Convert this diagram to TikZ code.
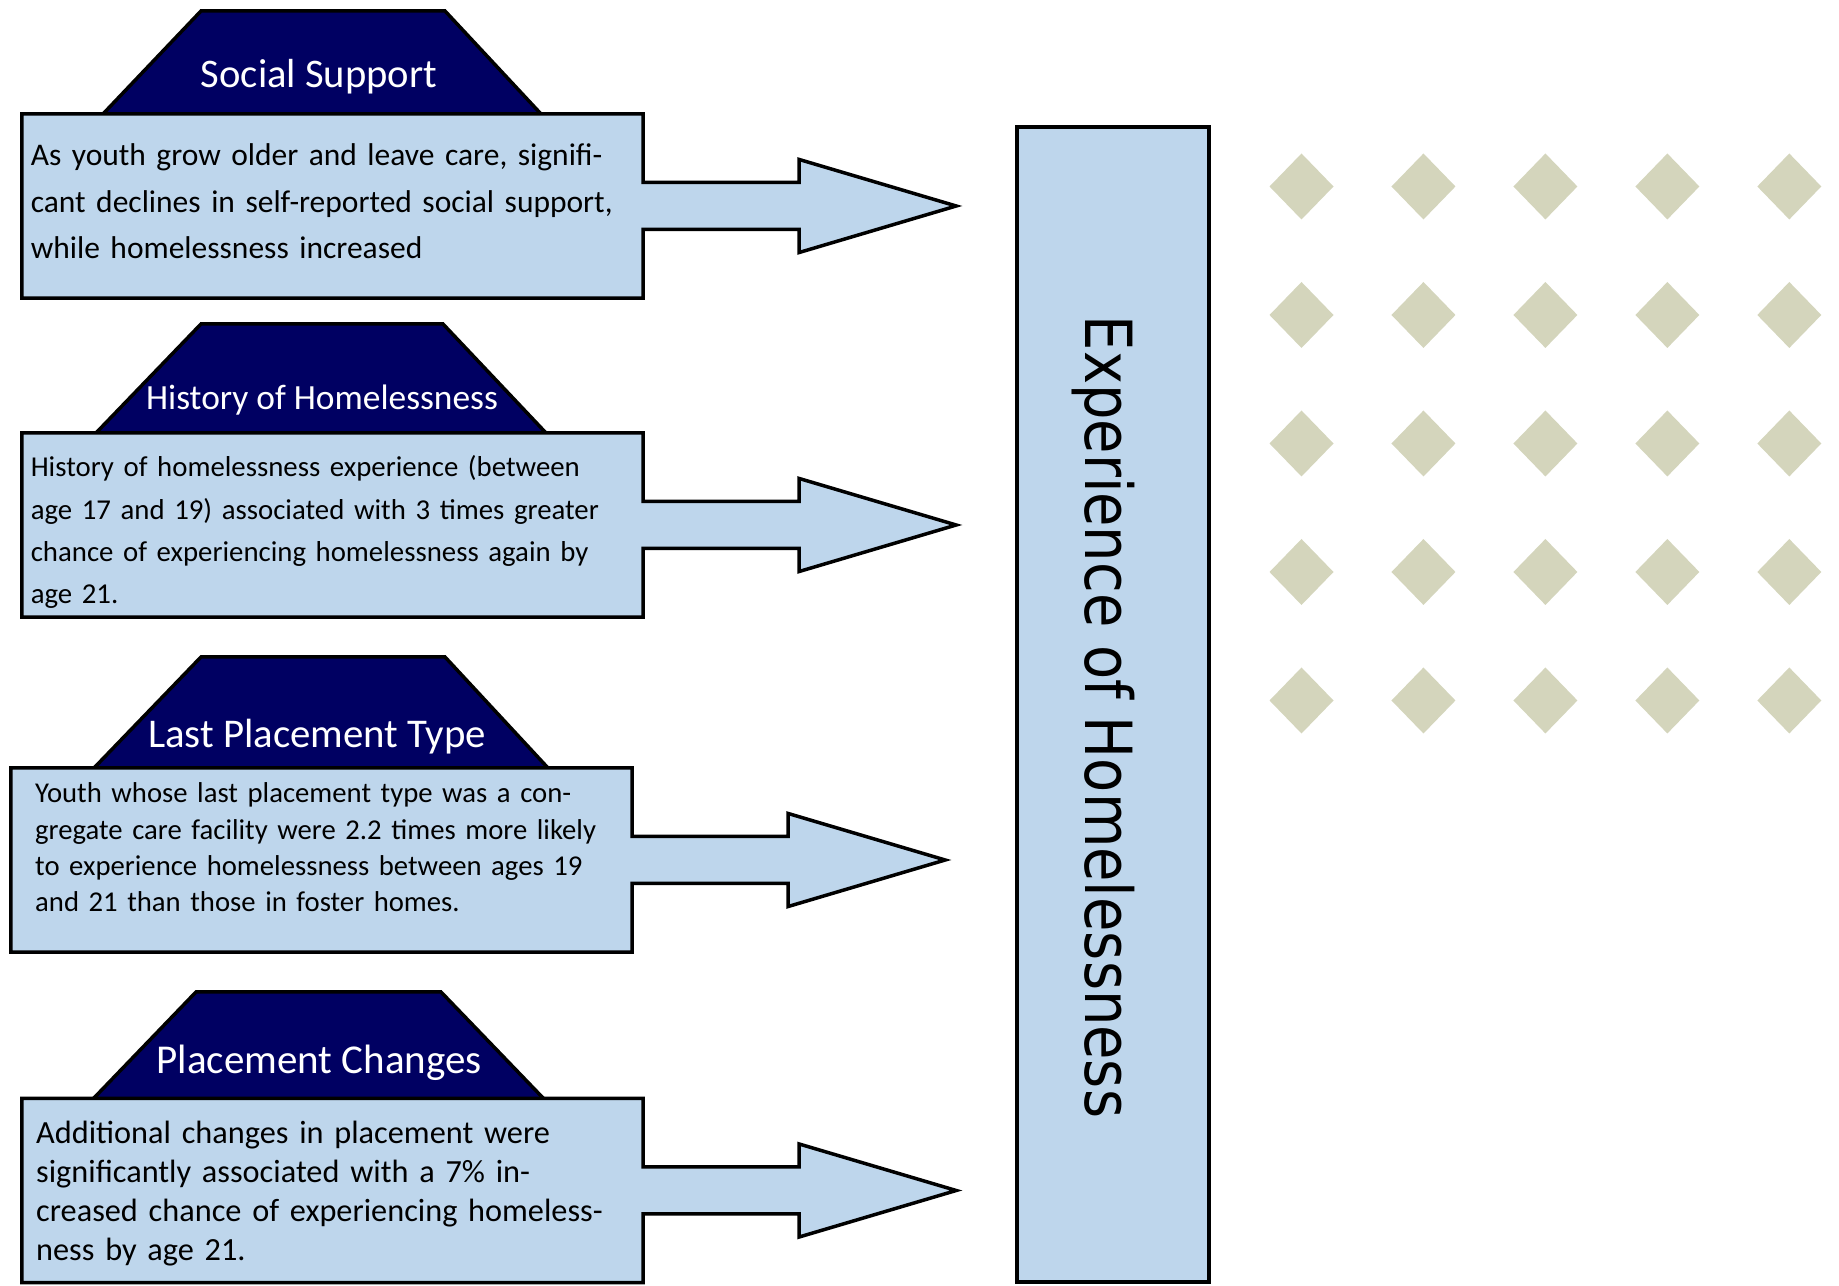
\documentclass[tikz,border=0pt]{standalone}
\usepackage{fontspec}
\setmainfont{Carlito}
\newfontfamily\vertfont{DejaVu Sans}
\usepackage{graphicx}
\usetikzlibrary{positioning, calc}
\definecolor{capnavy}{RGB}{0,0,98}
\definecolor{boxblue}{RGB}{190,214,236}
\definecolor{dotgray}{RGB}{212,213,188}
\tikzset{
  capshape/.style = {draw=black, line width=3.5pt, fill=capnavy},
  infobox/.style  = {draw=black, line width=3.5pt, fill=boxblue},
  boxframe/.style = {inner sep=0pt, minimum width=621pt, minimum height=184pt},
  captext/.style  = {text=white, anchor=base, inner sep=0pt},
  bodytext/.style = {anchor=base west, text width=650pt, align=left, inner sep=0pt},
  tallbox/.style  = {draw=black, line width=3.5pt, fill=boxblue, inner sep=0pt,
                     minimum width=192pt, minimum height=1155pt},
  vlabel/.style   = {rotate=-90, anchor=base, inner sep=0pt,
                     font=\vertfont\fontsize{65}{70}\selectfont},
}
% box outline merged with its arrow
\newcommand{\boxarrow}[1]{%
  \draw[infobox] (#1.north west) -- (#1.north east) -- ([yshift=23.5pt]#1.east)
    -- ++(156,0) -- ++(0,23) -- ([xshift=313pt]#1.east) -- ++(-157,-46.5)
    -- ++(0,23) -- ([yshift=-23.5pt]#1.east) -- (#1.south east)
    -- (#1.south west) -- cycle;}

\begin{document}
\begin{tikzpicture}[x=1pt, y=1pt]
  \useasboundingbox (0,0) rectangle (1839,1285);

  % Social Support
  \draw[capshape] (103,1171) -- (201,1274) -- (445,1274) -- (541,1171) -- cycle;
  \node[boxframe] (ssbox) at (332.5,1079) {};
  \boxarrow{ssbox}
  \node[captext, font=\fontsize{40.6}{48}\selectfont] (sstitle) at (319,1197) {Social Support};
  \node[bodytext, font=\fontsize{31.5}{46.5}\selectfont] (ssbody) at (30.6,1119)
    {As youth grow older and leave care, signifi-\\
     cant declines in self-reported social support,\\
     while homelessness increased};

  % History of Homelessness
  \draw[capshape] (96,852) -- (201,961) -- (443,961) -- (546,852) -- cycle;
  \node[boxframe] (hhbox) at (332.5,760) {};
  \boxarrow{hhbox}
  \node[captext, font=\fontsize{35.4}{42}\selectfont] (hhtitle) at (322,875.7) {History of Homelessness};
  \node[bodytext, font=\fontsize{28.8}{42.2}\selectfont] (hhbody) at (30.6,808)
    {History of homelessness experience (between\\
     age 17 and 19) associated with 3 times greater\\
     chance of experiencing homelessness again by\\
     age 21.};

  % Last Placement Type
  \draw[capshape] (94,517) -- (201,628) -- (445,628) -- (548,517) -- cycle;
  \node[boxframe] (lpbox) at (321.5,425) {};
  \boxarrow{lpbox}
  \node[captext, font=\fontsize{40.8}{48}\selectfont] (lptitle) at (317,537.7) {Last Placement Type};
  \node[bodytext, font=\fontsize{28.7}{36.2}\selectfont] (lpbody) at (35,482)
    {Youth whose last placement type was a con-\\
     gregate care facility were 2.2 times more likely\\
     to experience homelessness between ages 19\\
     and 21 than those in foster homes.};

  % Placement Changes
  \draw[capshape] (93,186) -- (196,293) -- (441,293) -- (544,186) -- cycle;
  \node[boxframe] (pcbox) at (332.5,94.5) {};
  \boxarrow{pcbox}
  \node[captext, font=\fontsize{41}{48}\selectfont] (pctitle) at (319.3,211.7) {Placement Changes};
  \node[bodytext, font=\fontsize{32.3}{39}\selectfont] (pcbody) at (36,141)
    {Additional changes in placement were\\
     significantly associated with a 7\% in-\\
     creased chance of experiencing homeless-\\
     ness by age 21.};

  % outcome
  \node[tallbox] (exp) at (1113,580.5) {};
  \node[vlabel] (explabel) at (1085,568) {\scalebox{0.86}[1]{Experience of Homelessness}};

  % diamond grid
  \foreach \i in {0,...,4}
    \foreach \j in {0,...,4}
      \fill[dotgray] ({1301.5+121.95*\i},{1098.5-128.5*\j})
        +(-32,0) -- +(0,33) -- +(32,0) -- +(0,-33) -- cycle;
\end{tikzpicture}
\end{document}
